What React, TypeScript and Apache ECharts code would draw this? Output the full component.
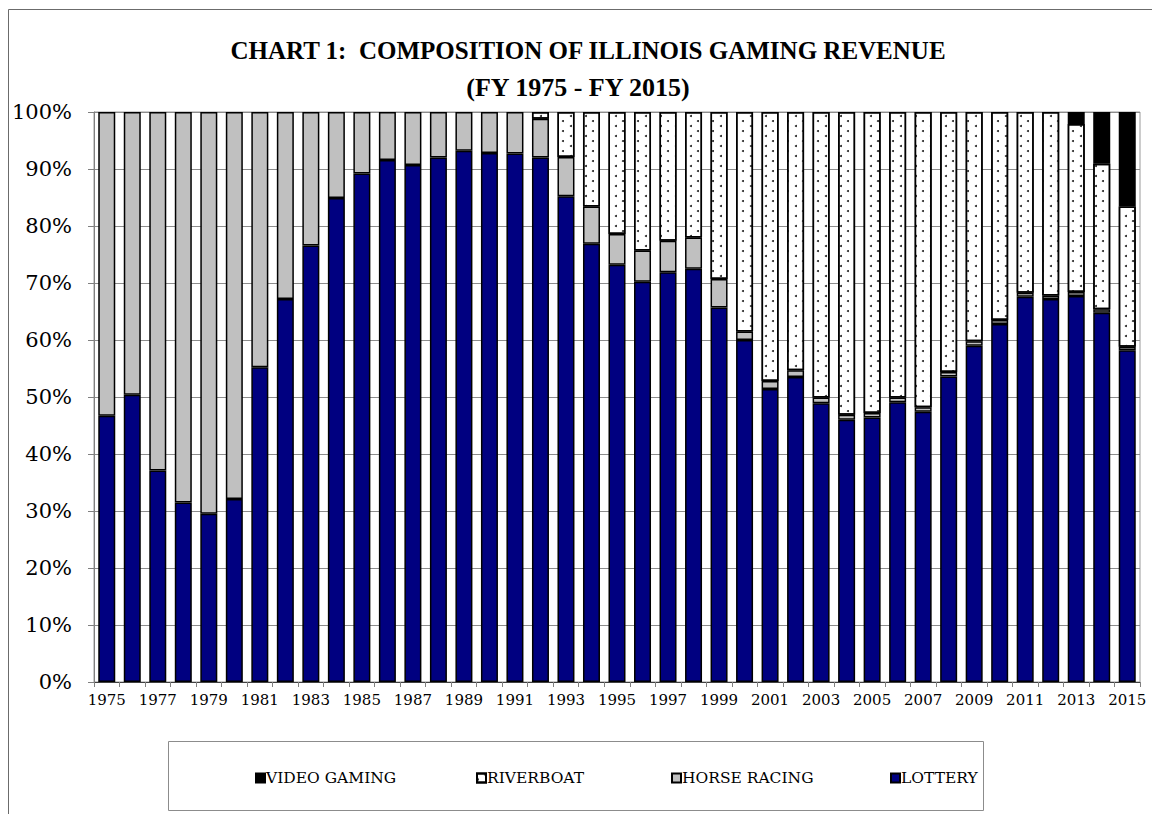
import React, { useEffect, useRef } from "react";
import * as echarts from "echarts";

const years = [
  "1975","1976","1977","1978","1979","1980","1981","1982","1983","1984",
  "1985","1986","1987","1988","1989","1990","1991","1992","1993","1994",
  "1995","1996","1997","1998","1999","2000","2001","2002","2003","2004",
  "2005","2006","2007","2008","2009","2010","2011","2012","2013","2014","2015",
];

// shares of total gaming revenue, percent
const lottery = [
  46.7, 50.4, 37.1, 31.5, 29.5, 32.1, 55.2, 67.2, 76.6, 84.9,
  89.2, 91.6, 90.7, 92.0, 93.2, 92.8, 92.7, 92.0, 85.2, 76.9,
  73.2, 70.2, 71.9, 72.5, 65.7, 60.0, 51.4, 53.5, 48.9, 46.0,
  46.4, 49.1, 47.4, 53.6, 59.0, 62.8, 67.6, 67.2, 67.7, 64.8, 58.2,
];
const horseRacing = [
  53.3, 49.6, 62.9, 68.5, 70.5, 67.9, 44.8, 32.8, 23.4, 15.1,
  10.8, 8.4, 9.3, 8.0, 6.8, 7.2, 7.3, 6.8, 6.9, 6.5,
  5.4, 5.5, 5.5, 5.5, 5.0, 1.5, 1.4, 1.2, 1.0, 0.9,
  0.8, 0.8, 0.8, 0.8, 0.8, 0.7, 0.7, 0.6, 0.7, 0.6, 0.6,
];
const riverboat = [
  0, 0, 0, 0, 0, 0, 0, 0, 0, 0,
  0, 0, 0, 0, 0, 0, 0, 1.2, 7.9, 16.6,
  21.4, 24.3, 22.6, 22.0, 29.3, 38.5, 47.2, 45.3, 50.1, 53.1,
  52.8, 50.1, 51.8, 45.6, 40.2, 36.5, 31.7, 32.2, 29.5, 25.5, 24.6,
];
const videoGaming = [
  0, 0, 0, 0, 0, 0, 0, 0, 0, 0,
  0, 0, 0, 0, 0, 0, 0, 0, 0, 0,
  0, 0, 0, 0, 0, 0, 0, 0, 0, 0,
  0, 0, 0, 0, 0, 0, 0, 0, 2.1, 9.1, 16.6,
];

const titleLine1 = "CHART 1:  COMPOSITION OF ILLINOIS GAMING REVENUE";
const titleLine2 = "(FY 1975 - FY 2015)";

const SERIF = '"DejaVu Serif", serif';

export default function App() {
  const ref = useRef<HTMLDivElement>(null);

  useEffect(() => {
    if (!ref.current) return;
    const chart = echarts.init(ref.current, null, { renderer: "svg" });
    const nz = (arr: number[]) => arr.map((v) => (v === 0 ? "-" : v));
    const border = { borderColor: "#000", borderWidth: 1.5 };
    const legendCommon = {
      orient: "horizontal" as const,
      icon: "rect",
      itemWidth: 9,
      itemHeight: 9,
      top: 765,
      textStyle: { fontFamily: SERIF, fontSize: 15.5, color: "#000", padding: [0, 0, 0, -4] },
    };
    chart.setOption({
      animation: false,
      backgroundColor: "#fff",
      grid: {
        left: 94,
        right: 12,
        top: 112,
        bottom: 132,
        show: true,
        borderColor: "#9a9a9a",
        borderWidth: 1,
      },
      graphic: [
        {
          type: "rect",
          shape: { x: 8.5, y: 9.5, width: 1200, height: 900 },
          style: { fill: "none", stroke: "#6b6b6b", lineWidth: 1 },
          silent: true,
          z: -1,
        },
        {
          type: "rect",
          shape: { x: 168.5, y: 741.5, width: 815, height: 69 },
          style: { fill: "none", stroke: "#8c8c8c", lineWidth: 1 },
          silent: true,
        },
        {
          type: "text",
          x: 588,
          y: 50,
          style: {
            text: titleLine1,
            font: 'bold 25px "Liberation Serif", serif',
            fill: "#000",
            textAlign: "center",
            verticalAlign: "middle",
          },
        },
        {
          type: "text",
          x: 578,
          y: 87,
          style: {
            text: titleLine2,
            font: 'bold 26px "Liberation Serif", serif',
            fill: "#000",
            textAlign: "center",
            verticalAlign: "middle",
          },
        },
      ],
      legend: [
        { ...legendCommon, left: 250, data: ["VIDEO GAMING"] },
        { ...legendCommon, left: 471, data: ["RIVERBOAT"] },
        { ...legendCommon, left: 666, data: ["HORSE RACING"] },
        { ...legendCommon, left: 885, data: ["LOTTERY"] },
      ],
      xAxis: {
        type: "category",
        data: years,
        boundaryGap: true,
        axisLine: { show: true, lineStyle: { color: "#404040", width: 1 } },
        axisTick: { show: true, alignWithLabel: false, interval: 0, length: 5, lineStyle: { color: "#808080" } },
        axisLabel: {
          interval: 1,
          fontFamily: SERIF,
          fontSize: 15,
          color: "#000",
          margin: 10,
        },
        splitLine: { show: false },
      },
      yAxis: {
        type: "value",
        min: 0,
        max: 100,
        interval: 10,
        axisLine: { show: true, lineStyle: { color: "#808080", width: 1 } },
        axisTick: { show: true, length: 6, lineStyle: { color: "#808080" } },
        axisLabel: {
          formatter: "{value}%",
          fontFamily: SERIF,
          fontSize: 21,
          color: "#000",
          margin: 22,
        },
        splitLine: { show: true, lineStyle: { color: "#8c8c8c", width: 1 } },
      },
      series: [
        {
          name: "LOTTERY",
          type: "bar",
          stack: "total",
          data: nz(lottery),
          barWidth: 17,
          itemStyle: { color: "#000080", ...border },
        },
        {
          name: "HORSE RACING",
          type: "bar",
          stack: "total",
          data: nz(horseRacing),
          barWidth: 17,
          itemStyle: { color: "#c0c0c0", ...border },
        },
        {
          name: "RIVERBOAT",
          type: "bar",
          stack: "total",
          data: nz(riverboat),
          barWidth: 17,
          itemStyle: {
            color: "#ffffff",
            ...border,
            decal: {
              symbol: "circle",
              symbolSize: 1,
              color: "#222222",
              dashArrayX: [[1.6, 12.4], [0, 7, 1.6, 5.4]],
              dashArrayY: [1.6, 2.9],
              rotation: 0,
            },
          },
        },
        {
          name: "VIDEO GAMING",
          type: "bar",
          stack: "total",
          data: nz(videoGaming),
          barWidth: 17,
          itemStyle: { color: "#000000", ...border },
        },
      ],
    });
    return () => chart.dispose();
  }, []);

  return (
    <div
      ref={ref}
      style={{ position: "fixed", left: 0, top: 0, width: 1152, height: 814 }}
    />
  );
}
